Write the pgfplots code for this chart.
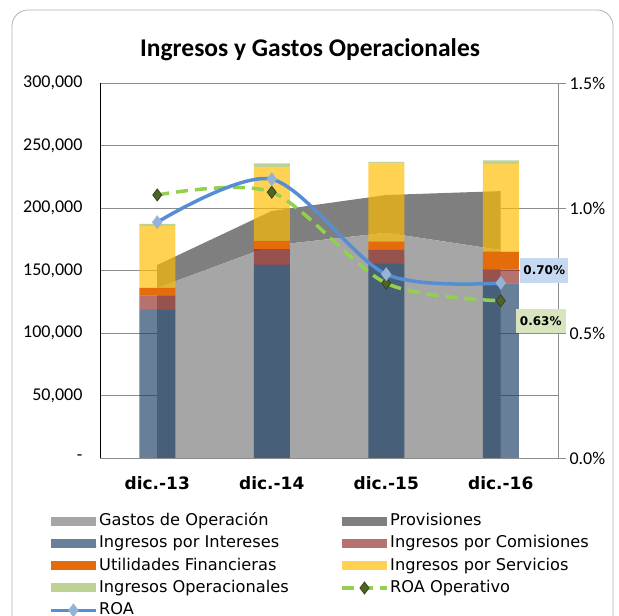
\documentclass[border=0pt]{standalone}
\usepackage{pgfplots}
\usepackage{pgfplotstable}
\pgfplotsset{compat=1.18}
\usepackage{fontspec}
\setmainfont{DejaVu Sans}
\newfontfamily\carlito{Carlito}
\newfontfamily\dejavu{DejaVu Sans}
\definecolor{gastos}{HTML}{A6A6A6}
\definecolor{provis}{HTML}{7F7F7F}
\definecolor{inter}{HTML}{173A62}
\definecolor{comis}{HTML}{912520}
\definecolor{util}{HTML}{E46C0A}
\definecolor{serv}{HTML}{FFBC00}
\definecolor{operac}{HTML}{9BBB59}
\definecolor{roa}{HTML}{558ED5}
\definecolor{roamark}{HTML}{95B3D7}
\definecolor{roaop}{HTML}{92D050}
\definecolor{roaopmark}{HTML}{4F6228}
\definecolor{gridc}{HTML}{8C8C8C}
\definecolor{lblA}{HTML}{C6D9F1}
\definecolor{lblB}{HTML}{D7E4BD}

\pgfplotstableread{
x gastos provis
0 136000 18400
1 170000 27600
2 180200 30200
3 166400 47100
}\areas
\pgfplotstableread{
x inter comis util serv operac
0 118400 11400 6200 49600 1600
1 154400 12600 6600 58600 3500
2 155200 11200 6600 62700 1100
3 139700 11200 14100 70200 2900
}\bars
\pgfplotstableread{
x roaop roa
0 1.052 0.943
1 1.063 1.115
2 0.699 0.735
3 0.629 0.700
}\roas

\pgfplotsset{
  base/.style={scale only axis, width=458pt, height=375pt, at={(100pt,158pt)}, anchor=south west, xmin=-0.5, xmax=3.5},
  swatch/.style={legend image code/.code={\fill[##1,draw=none] (0pt,-4.5pt) rectangle (45pt,4.5pt);}},
  lineswatch/.style={legend image code/.code={\draw[mark repeat=2,mark phase=2,##1] plot coordinates {(0pt,0pt) (22.5pt,0pt) (45pt,0pt)};}},
}

\begin{document}
\begin{tikzpicture}
\path[use as bounding box] (0,0) rectangle (619pt,616pt);
\draw[gray!60, line width=0.8pt, rounded corners=16pt] (12pt,-30pt) rectangle (613pt,606pt);
\node[font=\carlito\bfseries\fontsize{25.5}{30}\selectfont] at (310pt,566pt) {Ingresos y Gastos Operacionales};

% areas + left axis
\begin{axis}[base, ymin=0, ymax=300000, stack plots=y,
  scaled y ticks=false,
  axis x line*=bottom, axis y line*=left,
  x axis line style={draw=gridc, line width=0.8pt, -},
  y axis line style={draw=black, line width=0.6pt, -},
  ytick={0,50000,100000,150000,200000,250000,300000},
  yticklabels={-,{50,000},{100,000},{150,000},{200,000},{250,000},{300,000}},
  ymajorgrids, grid style={draw=gridc, line width=0.8pt},
  major tick length=0pt,
  yticklabel style={font=\carlito\fontsize{18}{20}\selectfont, xshift=-14pt},
  xtick={0,1,2,3},
  xticklabels={dic.-13,dic.-14,dic.-15,dic.-16},
  xticklabel style={font=\dejavu\bfseries\fontsize{17}{20}\selectfont, yshift=-15pt},
]
\addplot[fill=gastos, draw=none] table[x=x,y=gastos]{\areas} \closedcycle;
\addplot[fill=provis, draw=none] table[x=x,y=provis]{\areas} \closedcycle;
\end{axis}

% stacked bars
\begin{axis}[base, ymin=0, ymax=300000, hide axis, ybar stacked, bar width=36pt]
\addplot[fill=inter, fill opacity=0.65, draw=none] table[x=x,y=inter]{\bars};
\addplot[fill=comis, fill opacity=0.65, draw=none] table[x=x,y=comis]{\bars};
\addplot[fill=util, draw=none] table[x=x,y=util]{\bars};
\addplot[fill=serv, fill opacity=0.68, draw=none] table[x=x,y=serv]{\bars};
\addplot[fill=operac, fill opacity=0.65, draw=none] table[x=x,y=operac]{\bars};
\end{axis}

% lines, right axis, legend
\begin{axis}[base, ymin=0, ymax=1.5, clip=false,
  axis y line*=right, axis x line=none,
  y axis line style={draw=gridc, line width=0.8pt, -},
  ytick={0,0.5,1,1.5},
  yticklabels={0.0\%,0.5\%,1.0\%,1.5\%},
  ytick style={draw=gridc, line width=0.8pt},
  tick align=outside, major tick length=8pt,
  yticklabel style={font=\carlito\fontsize{18}{20}\selectfont},
  xtick=\empty,
  legend columns=2,
  legend cell align=left,
  legend style={at={(-0.1114,-0.141)}, anchor=north west, draw=none, fill=none,
    font=\dejavu\fontsize{16.2}{19}\selectfont, inner sep=0pt, row sep=2.3pt,
    nodes={inner sep=1.5pt, text height=13pt, text depth=4pt},
    /tikz/every even column/.append style={column sep=50pt}},
]
\addlegendimage{swatch, fill=gastos}
\addlegendentry{Gastos de Operación}
\addlegendimage{swatch, fill=provis}
\addlegendentry{Provisiones}
\addlegendimage{swatch, fill=inter, fill opacity=0.65}
\addlegendentry{Ingresos por Intereses}
\addlegendimage{swatch, fill=comis, fill opacity=0.65}
\addlegendentry{Ingresos por Comisiones}
\addlegendimage{swatch, fill=util}
\addlegendentry{Utilidades Financieras}
\addlegendimage{swatch, fill=serv, fill opacity=0.68}
\addlegendentry{Ingresos por Servicios}
\addlegendimage{swatch, fill=operac, fill opacity=0.65}
\addlegendentry{Ingresos Operacionales}
\addplot[roaop, line width=3.5pt, dash pattern=on 12pt off 7pt, smooth, lineswatch,
  mark=diamond*, mark size=6pt, mark options={solid, fill=roaopmark, draw=roaopmark!70!black, line width=0.8pt}]
  table[x=x,y=roaop]{\roas};
\addlegendentry{ROA Operativo}
\addplot[roa, line width=3.5pt, smooth, lineswatch,
  mark=diamond*, mark size=6.5pt, mark options={fill=roamark, draw=roamark, line width=0.5pt}]
  table[x=x,y=roa]{\roas};
\addlegendentry{ROA}
\node[fill=lblA, font=\dejavu\bfseries\fontsize{12}{14}\selectfont, minimum height=25pt, minimum width=47pt, inner sep=3pt]
  at ([xshift=43.5pt,yshift=12.8pt]axis cs:3,0.70) {0.70\%};
\node[fill=lblB, font=\dejavu\bfseries\fontsize{12}{14}\selectfont, minimum height=24pt, minimum width=50pt, inner sep=3pt]
  at ([xshift=40pt,yshift=-20.3pt]axis cs:3,0.629) {0.63\%};
\end{axis}
\end{tikzpicture}
\end{document}
